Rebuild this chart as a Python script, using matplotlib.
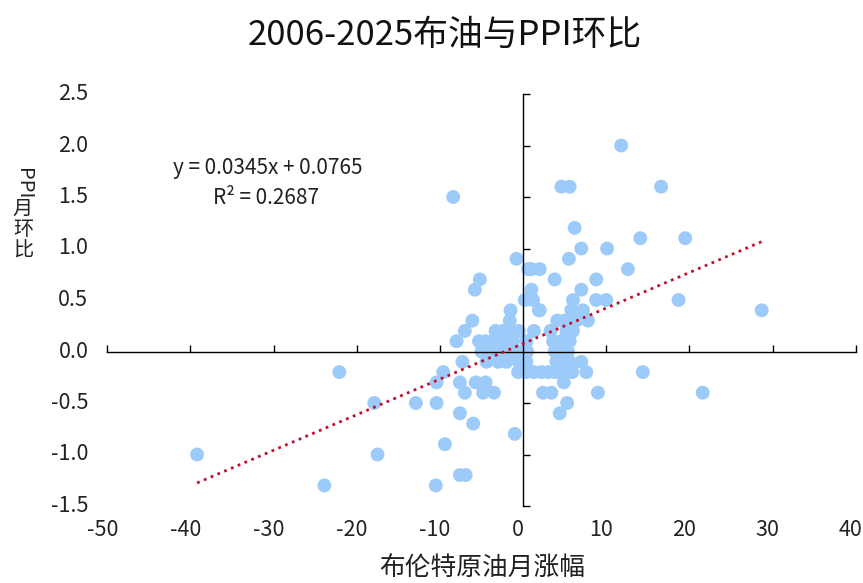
import matplotlib
matplotlib.use('Agg')
import matplotlib.pyplot as plt
import matplotlib.transforms as mtransforms

plt.rcParams['font.family'] = ['Noto Sans CJK SC', 'DejaVu Sans']

# 布伦特原油月涨幅 (%) / PPI月环比 (%)
brent_chg = [
    -39.2, -23.9, -22.1, -17.9, -17.5, -12.9, -10.5, -10.4, -10.4, -9.6,
    -9.4, -8.4, -8.0, -7.6, -7.6, -7.6, -6.9, -7.3, -7.0, -7.0,
    -6.1, -6.0, -5.8, -5.2, -5.7, -4.5, -4.8, -3.5, -4.4, -1.0,
    -0.8, -1.5, -1.6,
    -3.3, -2.4, -1.7, -0.5,
    -5.3, -4.5, -3.7, -2.9, -2.0, -1.2,
    -5.0, -4.2, -3.2, -2.3, -1.4, -0.6,
    -3.0, -2.0, -0.5, 0.4,
    -0.6, 0.4, 1.3, 2.2, 3.0, 3.8,
    0.2, 1.2, 0.6, 1.0, 2.0, 1.0, 2.0, 1.3, 0.4, 0.5,
    3.6, 4.6, 5.6, 3.8, 4.6, 5.4, 4.0, 4.9, 5.6, 4.3,
    5.2, 5.9, 4.9, 3.3, 5.2, 6.0, 4.1, 6.4, 5.0,
    2.4, 3.4, 5.3, 4.4, 7.0, 7.6, 9.0, 14.4, 21.6, 28.7,
    18.7, 10.0, 8.8, 6.0, 5.8, 7.2, 7.8, 1.9, 3.8, 8.8,
    7.0, 12.6, 5.5, 7.0, 10.1, 14.1, 19.5, 6.2, 4.6, 5.6,
    16.6, 11.8,
]
ppi_mom = [
    -1.0, -1.3, -0.2, -0.5, -1.0, -0.5, -1.3, -0.5, -0.3, -0.2,
    -0.9, 1.5, 0.1, -0.3, -0.6, -1.2, -1.2, -0.1, -0.4, 0.2,
    0.3, -0.7, 0.6, 0.7, -0.3, -0.3, -0.4, -0.4, -0.1, -0.8,
    0.9, 0.4, 0.3,
    0.2, 0.2, 0.2, 0.2,
    0.1, 0.1, 0.1, 0.1, 0.1, 0.1,
    0.0, 0.0, 0.0, 0.0, 0.0, 0.0,
    -0.1, -0.1, -0.1, -0.1,
    -0.2, -0.2, -0.2, -0.2, -0.2, -0.2,
    0.5, 0.5, 0.8, 0.8, 0.8, 0.6, 0.4, 0.2, 0.1, 0.0,
    0.1, 0.1, 0.1, 0.0, 0.0, 0.0, -0.1, -0.1, -0.1, -0.2,
    -0.2, -0.2, -0.3, 0.2, 0.2, 0.2, 0.3, 0.3, 0.3,
    -0.4, -0.4, -0.5, -0.6, -0.1, -0.2, -0.4, -0.2, -0.4, 0.4,
    0.5, 0.5, 0.5, 0.5, 0.4, 0.4, 0.3, 0.4, 0.7, 0.7,
    0.6, 0.8, 0.9, 1.0, 1.0, 1.1, 1.1, 1.2, 1.6, 1.6,
    1.6, 2.0,
]

# 线性趋势线参数
slope = 0.0345
intercept = 0.0765
r2 = 0.2687

x_ticks = [-50, -40, -30, -20, -10, 0, 10, 20, 30, 40]
y_ticks = [-1.5, -1.0, -0.5, 0.0, 0.5, 1.0, 1.5, 2.0, 2.5]

W, H = 863, 583
fig = plt.figure(figsize=(W / 100, H / 100), dpi=100)
ax = fig.add_axes([107.3 / W, 1 - 506 / H, 748.4 / W, 412 / H])
ax.set_xlim(-50, 40)
ax.set_ylim(-1.5, 2.5)

ax.scatter(brent_chg, ppi_mom, s=100, color='#9CCBF9', edgecolors='none', zorder=2)

x0, x1 = min(brent_chg), max(brent_chg)
ax.plot([x0, x1], [slope * x0 + intercept, slope * x1 + intercept],
        linestyle=':', color='#C0102C', linewidth=2.0, zorder=3)

# 坐标轴交于原点
ax.spines['left'].set_position(('data', 0))
ax.spines['bottom'].set_position(('data', 0))
ax.spines['top'].set_visible(False)
ax.spines['right'].set_visible(False)
for s in ('left', 'bottom'):
    ax.spines[s].set_linewidth(1.0)
ax.set_xticks(x_ticks)
ax.set_yticks(y_ticks)
ax.tick_params(direction='in', length=5, width=1.0,
               labelbottom=False, labelleft=False)

# 刻度标签放在图边缘
tick_fs = 15.5
xlab_tr = mtransforms.blended_transform_factory(ax.transData, ax.transAxes) + \
    mtransforms.ScaledTranslation(-5 / 100, -24 / 100, fig.dpi_scale_trans)
for v in x_ticks:
    ax.text(v, 0, str(v), transform=xlab_tr, ha='center', va='center',
            fontsize=tick_fs, color='#222222')
ylab_tr = mtransforms.blended_transform_factory(ax.transAxes, ax.transData) + \
    mtransforms.ScaledTranslation(-19 / 100, 0, fig.dpi_scale_trans)
for v in y_ticks:
    ax.text(0, v, '%.1f' % v, transform=ylab_tr, ha='right', va='center',
            fontsize=tick_fs, color='#222222')

fig.text(445 / W, 1 - 35 / H, '2006-2025布油与PPI环比', ha='center', va='center',
         fontsize=25, color='#111111')

fig.text(268 / W, 1 - 168 / H, 'y = %.4fx + %.4f' % (slope, intercept),
         ha='center', va='center', fontsize=15, color='#222222')
fig.text(266 / W, 1 - 198 / H, 'R² = %.4f' % r2,
         ha='center', va='center', fontsize=15, color='#222222')

fig.text(482 / W, 1 - 568 / H, '布伦特原油月涨幅', ha='center', va='center',
         fontsize=18.5, color='#222222')

# 纵轴标题（竖排）
fig.text(23 / W, 1 - 184 / H, 'PPI', rotation=-90, ha='center', va='center',
         fontsize=14.5, color='#222222')
for ch, yy in zip('月环比', [209, 229, 251]):
    fig.text(23 / W, 1 - yy / H, ch, ha='center', va='center',
             fontsize=14.5, color='#222222')

fig.savefig('out.png', dpi=100)
